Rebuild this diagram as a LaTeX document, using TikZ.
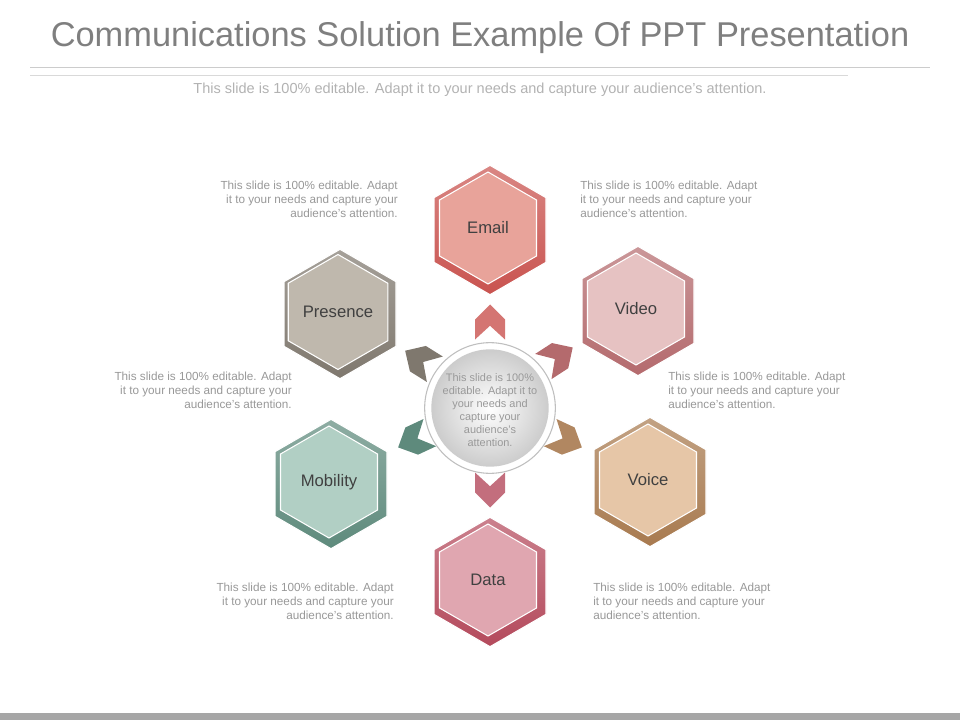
\documentclass[tikz,border=0pt]{standalone}
\usepackage{fontspec}
\setmainfont{Liberation Sans}
\usetikzlibrary{shapes.geometric}
\definecolor{emailout}{HTML}{C9534F}\definecolor{emailin}{HTML}{E8A39A}
\definecolor{videoout}{HTML}{B46A6D}\definecolor{videoin}{HTML}{E6C2C2}
\definecolor{voiceout}{HTML}{A87A4F}\definecolor{voicein}{HTML}{E6C6A7}
\definecolor{dataout}{HTML}{B44A5C}\definecolor{datain}{HTML}{E0A6B0}
\definecolor{mobout}{HTML}{5E8A7C}\definecolor{mobin}{HTML}{B1CFC4}
\definecolor{presout}{HTML}{7F786E}\definecolor{presin}{HTML}{BFB8AD}
\definecolor{txtgray}{HTML}{7F7F7F}
\tikzset{
  hexout/.style={regular polygon,regular polygon sides=6,shape border rotate=30,
    minimum size=97pt,inner sep=0pt,draw=white,line width=0.8pt},
  hexin/.style={regular polygon,regular polygon sides=6,shape border rotate=30,
    minimum size=84pt,inner sep=0pt,draw=white,line width=0.8pt,
    font=\fontsize{12.5}{14}\selectfont,text=black!75},
  note/.style={font=\fontsize{8.8}{10.5}\selectfont,text=txtgray!80,inner sep=0pt},
  chev/.pic={\fill[#1,scale=1.25] (0,-14)--(12,-2)--(12,14)--(0,3)--(-12,14)--(-12,-2)--cycle;}
}
\begin{document}
\begin{tikzpicture}[x=0.75pt,y=-0.75pt]
\useasboundingbox (0,0) rectangle (960,720);
\node[font=\fontsize{25.8}{30}\selectfont,text=txtgray] (title) at (480,38) {Communications Solution Example Of PPT Presentation};
\draw[black!20] (30,67) -- (930,67);
\draw[black!15] (30,75) -- (848,75);
\node[note,text=black!30,font=\fontsize{10.9}{13}\selectfont] (sub) at (480,90) {This slide is 100\% editable. Adapt it to your needs and capture your audience's attention.};
\fill[black!35] (0,713) rectangle (960,720);

% chevrons
\pic[rotate=0] at (490,322) {chev=emailout!80};
\pic[rotate=-57] at (558,357) {chev=videoout};
\pic[rotate=-115] at (566,440) {chev=voiceout!90};
\pic[rotate=180] at (490,490) {chev=dataout!80};
\pic[rotate=115] at (414,440) {chev=mobout};
\pic[rotate=58] at (420,360) {chev=presout};

% centre
\node[circle,minimum size=98pt,inner sep=0pt,fill=white,draw=black!25,line width=0.8pt] (ring) at (490,408) {};
\node[circle,minimum size=88pt,inner sep=0pt,inner color=white,outer color=black!20] (disc) at (490,408) {};
\node[text=black!40,align=center,inner sep=0pt,font=\fontsize{8.2}{9.8}\selectfont] (centre) at (490,410)
  {This slide is 100\%\\editable. Adapt it to\\your needs and\\capture your\\audience's\\attention.};

% hexagons
\node[hexout,top color=emailout!70,bottom color=emailout] (emailo) at (490,230) {};
\node[hexin,fill=emailin] (email) at (488,228) {Email};
\node[hexout,top color=videoout!70,bottom color=videoout] (videoo) at (638,311) {};
\node[hexin,fill=videoin] (video) at (636,309) {Video};
\node[hexout,top color=voiceout!70,bottom color=voiceout] (voiceo) at (650,482) {};
\node[hexin,fill=voicein] (voice) at (648,480) {Voice};
\node[hexout,top color=dataout!70,bottom color=dataout] (datao) at (490,582) {};
\node[hexin,fill=datain] (data) at (488,580) {Data};
\node[hexout,top color=mobout!70,bottom color=mobout] (mobo) at (331,484) {};
\node[hexin,fill=mobin] (mobility) at (329,482) {Mobility};
\node[hexout,top color=presout!70,bottom color=presout] (preso) at (340,314) {};
\node[hexin,fill=presin] (presence) at (338,312) {Presence};

% notes
\node[note,anchor=north east,align=right] (n1) at (398,181) {This slide is 100\% editable. Adapt\\it to your needs and capture your\\audience's attention.};
\node[note,anchor=north west,align=left] (n2) at (580,181) {This slide is 100\% editable. Adapt\\it to your needs and capture your\\audience's attention.};
\node[note,anchor=north east,align=right] (n3) at (292,372) {This slide is 100\% editable. Adapt\\it to your needs and capture your\\audience's attention.};
\node[note,anchor=north west,align=left] (n4) at (668,372) {This slide is 100\% editable. Adapt\\it to your needs and capture your\\audience's attention.};
\node[note,anchor=north east,align=right] (n5) at (394,583) {This slide is 100\% editable. Adapt\\it to your needs and capture your\\audience's attention.};
\node[note,anchor=north west,align=left] (n6) at (593,583) {This slide is 100\% editable. Adapt\\it to your needs and capture your\\audience's attention.};
\end{tikzpicture}
\end{document}
